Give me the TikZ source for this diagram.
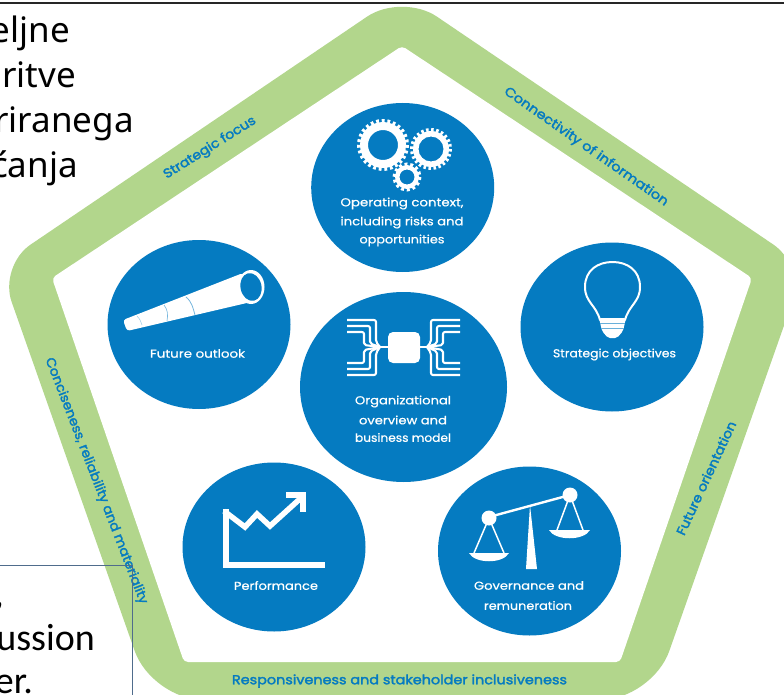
\documentclass[tikz,border=0pt]{standalone}
\usepackage{fontspec}
\setmainfont{Noto Sans}
\newfontfamily\popfont[FakeBold=0.7]{Poppins}
\newfontfamily\bandfont[FakeBold=2.2]{Poppins}
\newfontfamily\carfont{Carlito}
\usetikzlibrary{shapes.geometric}
\definecolor{bandgreen}{HTML}{B2D68C}
\definecolor{discblue}{HTML}{057BC1}
\definecolor{boxline}{HTML}{4F6C8C}
\newcommand{\fitw}[2]{\resizebox{#1pt}{\height}{#2}}
\tikzset{
  disc/.style={ellipse,fill=discblue,inner sep=0pt,minimum width=183pt,minimum height=169pt},
  disclabel/.style={text=white,inner sep=0pt,font=\popfont\fontsize{11.5}{11.5}\selectfont},
  bandlabel/.style={text=discblue,inner sep=0pt,font=\bandfont\fontsize{13}{13}\selectfont},
  slide/.style={text=black,inner sep=0pt,anchor=base east,font=\fontsize{35}{35}\selectfont},
  slidelow/.style={text=black,inner sep=0pt,anchor=base east,font=\carfont\fontsize{38}{38}\selectfont},
  icon/.style={white,line join=round,line cap=round},
}
\newcommand{\gearicon}[6]{% cx cy teeth-outer ring-outer hole n
  \fill[white,even odd rule] (#1,#2) circle[radius=#4] (#1,#2) circle[radius=#5];
  \pgfmathsetmacro{\toothlen}{3.14159*(#3+#4)/2/#6}
  \draw[white,line width=#3pt-#4pt+1pt,dash pattern=on \toothlen pt off \toothlen pt] (#1,#2) circle[radius={(#3+#4)/2}];
}
\begin{document}
\begin{tikzpicture}[x=1pt,y=-1pt]
\useasboundingbox (0,0) rectangle (784,695);
\clip (0,0) rectangle (784,695);
\fill[white] (0,0) rectangle (784,695);
% band
\fill[bandgreen,rounded corners=40] (402,700) [rounded corners=52] -- (152,700) [rounded corners=38] -- (-1,266) [rounded corners=42] -- (402,-7) [rounded corners=38] -- (805,266) [rounded corners=52] -- (652,700) -- cycle;
\fill[white,rounded corners=4] (402,662) -- (184,662) -- (52,278) -- (402,46) -- (752,278) -- (620,662) -- cycle;
% top rule
\draw[black!85,line width=1.8pt] (0,3.4) -- (784,3.4);
% discs
\node[disc] (ctx) at (402.7,187.5) {};
\node[disc] (out) at (199,324.5) {};
\node[disc] (obj) at (612,327) {};
\node[disc,minimum width=207pt,minimum height=190pt] (org) at (403.5,387) {};
\node[disc] (per) at (274,547) {};
\node[disc] (gov) at (529.5,551) {};
% gears
\gearicon{383}{145}{25.5}{23}{15}{27}
\gearicon{431}{149}{20.5}{18}{12.5}{24}
\gearicon{407}{177}{14}{12}{7.5}{14}
% telescope
\fill[white,rounded corners=3] (123,320) -- (243,273) -- (251,302) -- (127,331) -- cycle;
\fill[white] (251,287) ellipse[x radius=13.5,y radius=17];
\fill[discblue,rotate around={12:(251,287)}] (251,287) ellipse[x radius=10.5,y radius=14];
\draw[discblue!55!white,line width=.8pt] (186,297) .. controls (192,302) and (193,308) .. (195,315);
\draw[discblue!55!white,line width=.6pt] (164,305) .. controls (168,310) and (168,315) .. (167,321);
\draw[discblue!35!white,line width=.6pt] (137,316) .. controls (140,319) and (141,322) .. (142,325);
% bulb
\draw[icon,line width=2pt,fill=discblue] (600,320) .. controls (596,305) and (585,302) .. (585,287) .. controls (585,270) and (598,262) .. (612.5,262) .. controls (627,262) and (640,270) .. (640,287) .. controls (640,302) and (629,305) .. (625,320);
\fill[white,rounded corners=2] (599,318) -- (626,318) -- (623,331) -- (617,338) -- (608,338) -- (602,331) -- cycle;
\draw[discblue!60!white,line width=.4pt] (600,323) -- (625,323) (601,328) -- (624,328);
% hub
\fill[white,rounded corners=5] (388,332) rectangle (420,363);
\foreach \k/\xk in {0/376,1/370,2/364}{
  \pgfmathsetmacro{\yt}{320+6*\k}
  \pgfmathsetmacro{\yb}{375-6*\k}
  \pgfmathsetmacro{\yu}{342+1.5*\k}
  \pgfmathsetmacro{\yl}{353-1.5*\k}
  \draw[icon,line width=2.1pt,rounded corners=2,line cap=butt] (347,\yt) -- (\xk,\yt) -- (\xk,\yu) -- (380,347);
  \draw[icon,line width=2.1pt,rounded corners=2,line cap=butt] (347,\yb) -- (\xk,\yb) -- (\xk,\yl) -- (380,347);
  \draw[icon,line width=2.1pt,rounded corners=2,line cap=butt] (460,\yt) -- ({807-\xk},\yt) -- ({807-\xk},\yu) -- (427,347);
  \draw[icon,line width=2.1pt,rounded corners=2,line cap=butt] (460,\yb) -- ({807-\xk},\yb) -- ({807-\xk},\yl) -- (427,347);
}
\draw[icon,line width=2pt] (376,347) -- (388,347) (420,347) -- (431,347);
% chart
\draw[icon,line width=6.5pt,line cap=butt,line join=miter] (226,509) -- (226,565) -- (325,565);
\draw[icon,line width=5.5pt,line join=miter,line cap=butt] (224,511) -- (245,527) -- (257,514) -- (270,526) -- (302,497);
\draw[icon,line width=5.5pt,line join=miter,line cap=butt] (286,495) -- (303,495) -- (303,512);
% scales
\draw[icon,line width=2.4pt] (489,517) -- (570,495);
\fill[white] (489,518) circle[radius=7.5] (570,495) circle[radius=7.5];
\fill[white] (530,505) -- (526,569) -- (537,569) -- cycle;
\draw[icon,line width=1.5pt] (474,553) -- (489,518) -- (504,553);
\fill[white] (469,553) -- (509,553) .. controls (503,564) and (475,564) .. (469,553) -- cycle;
\draw[icon,line width=1.5pt] (557,530) -- (570,495) -- (583,530);
\fill[white] (549,530) -- (590,530) .. controls (584,541) and (555,541) .. (549,530) -- cycle;
% disc labels
\node[disclabel] (l1a) at (402,203.5) {\fitw{123}{Operating context,}};
\node[disclabel] (l1b) at (402,222.5) {\fitw{123}{including risks and}};
\node[disclabel] (l1c) at (402,240.5) {\fitw{85}{opportunities}};
\node[disclabel] (l2) at (197.5,353.5) {\fitw{95}{Future outlook}};
\node[disclabel] (l3) at (614.5,354.5) {\fitw{123}{Strategic objectives}};
\node[disclabel] (l4a) at (403,401.5) {\fitw{96}{Organizational}};
\node[disclabel] (l4b) at (403,420) {\fitw{88}{overview and}};
\node[disclabel] (l4c) at (403,437.5) {\fitw{96}{business model}};
\node[disclabel] (l5) at (276,585.5) {\fitw{84}{Performance}};
\node[disclabel] (l6a) at (529,585.5) {\fitw{110}{Governance and}};
\node[disclabel] (l6b) at (528,605.5) {\fitw{88}{remuneration}};
% band labels
\node[bandlabel,rotate=32] (b1) at (210,148) {\fitw{106}{Strategic focus}};
\node[bandlabel,rotate=-35] (b2) at (586,147) {\fitw{197}{Connectivity of information}};
\node[bandlabel,rotate=65] (b3) at (706,478) {\fitw{124}{Future orientation}};
\node[bandlabel,rotate=-68.8] (b4) at (96,481) {\fitw{263}{Conciseness, reliability and materiality}};
\node[bandlabel] (b5) at (399.5,681) {\fitw{335}{Responsiveness and stakeholder inclusiveness}};
% slide text fragments
\node[slide] (s1) at (70,43) {eljne};
\node[slide] (s2) at (76,88) {ritve};
\node[slide] (s3) at (134,133) {riranega};
\node[slide] (s4) at (78,178) {ćanja};
\node[slidelow] (s5) at (4,606) {,};
\node[slidelow] (s6) at (95,650) {ussion};
\node[slidelow] (s7) at (33,693) {er.};
% text box edge
\draw[boxline,line width=.7pt] (0,565) -- (132.7,565) -- (132.7,695);
\end{tikzpicture}
\end{document}
